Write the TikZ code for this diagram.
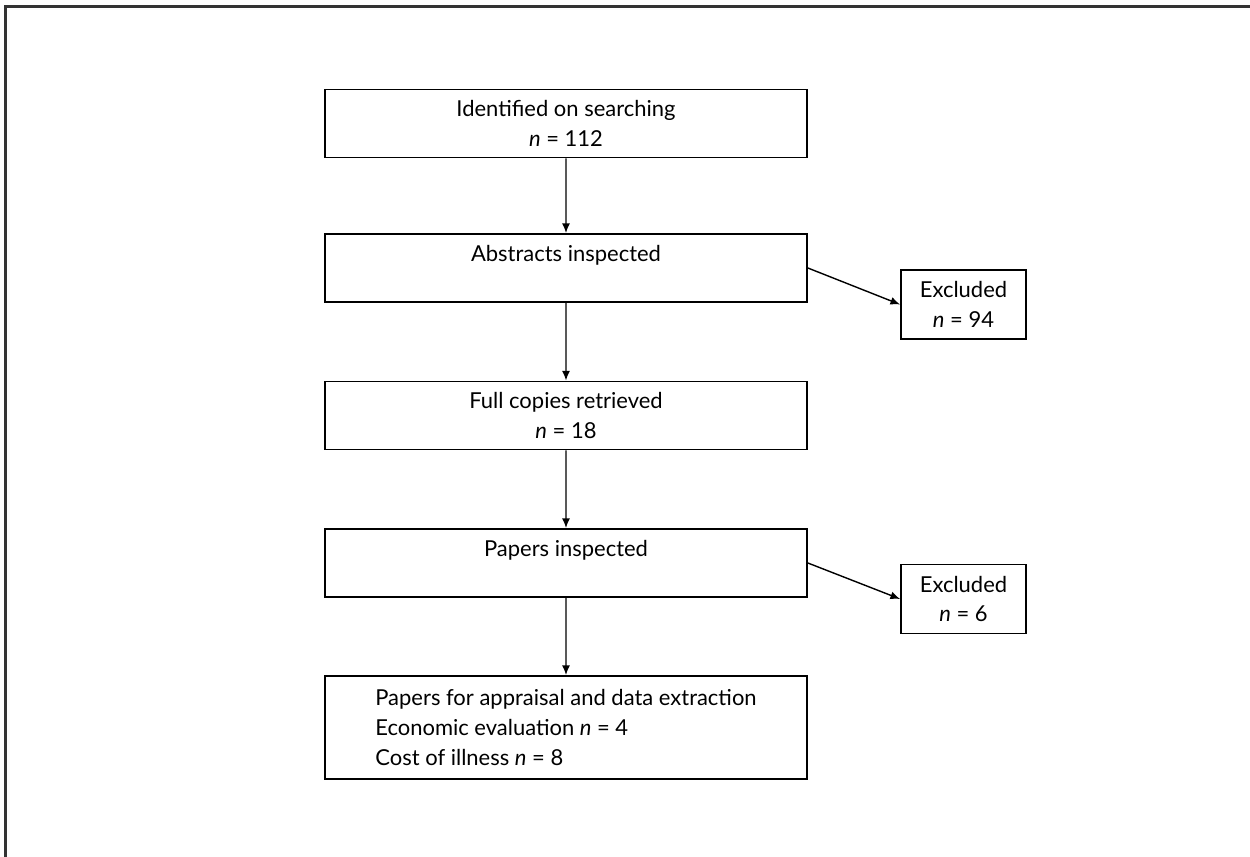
\documentclass[tikz,border=0pt]{standalone}
\usepackage{fontspec}
\setmainfont{Lato}
\usetikzlibrary{arrows.meta}

\begin{document}
\begin{tikzpicture}[scale=0.2]
\tikzstyle{every node}+=[inner sep=0pt, font=\fontsize{12.5}{17}\selectfont]
\tikzstyle{stage}=[draw, line width=1pt, minimum width=9.64cm, minimum height=1.36cm, align=center]
\tikzstyle{excl}=[draw, line width=1pt, minimum width=2.5cm, minimum height=1.38cm, align=center]
\tikzstyle{flow}=[line width=0.8pt, -{Latex[length=5.5pt,width=4.5pt]}]
\useasboundingbox (0,0) rectangle (125,-85.7);
\draw [line width=1.5pt, black!80] (125,-0.65) -- (0.55,-0.65) -- (0.55,-85.7);
\node [stage] (search) at (56.6,-12.35) {Identified on searching\\\textit{n} = 112};
\node [stage] (abstracts) at (56.6,-26.8) {Abstracts inspected\\~};
\node [stage] (copies) at (56.6,-41.55) {Full copies retrieved\\\textit{n} = 18};
\node [stage] (papers) at (56.6,-56.3) {Papers inspected\\~};
\node [stage, minimum height=2.06cm, align=left] (appraisal) at (56.6,-72.75) {Papers for appraisal and data extraction\\Economic evaluation \textit{n} = 4\\Cost of illness \textit{n} = 8};
\node [excl] (excl1) at (96.35,-30.45) {Excluded\\\textit{n} = 94};
\node [excl] (excl2) at (96.35,-59.9) {Excluded\\\textit{n} = 6};
\draw [flow] (search) -- (abstracts);
\draw [flow] (abstracts) -- (copies);
\draw [flow] (copies) -- (papers);
\draw [flow] (papers) -- (appraisal);
\draw [flow] (abstracts.east) -- (excl1.west);
\draw [flow] (papers.east) -- (excl2.west);
\end{tikzpicture}
\end{document}
